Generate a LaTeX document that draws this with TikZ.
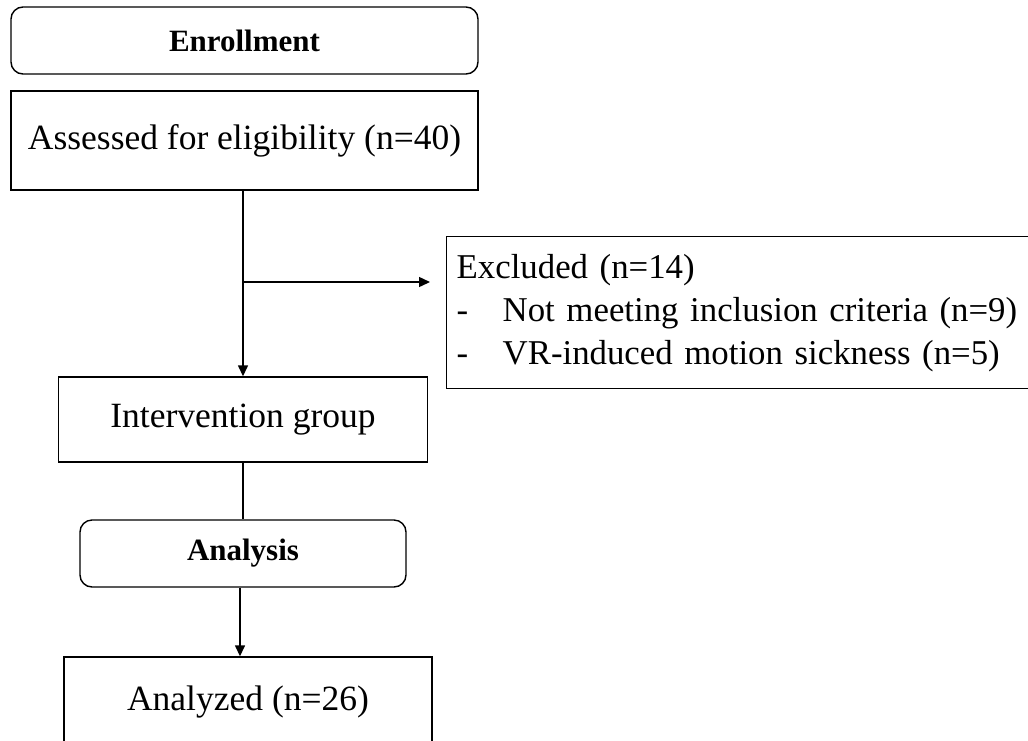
\documentclass[tikz,border=0pt]{standalone}
\usepackage{fontspec}
\setmainfont{Liberation Serif}
\usetikzlibrary{arrows.meta}
\tikzset{
  box/.style={draw, line width=1.4pt, inner sep=0pt, align=center, font=\fontsize{35.5}{43}\selectfont},
  roundbox/.style={box, rounded corners=12pt, font=\fontsize{31}{37}\selectfont\bfseries},
  conn/.style={line width=1.4pt},
  arr/.style={conn, -{Triangle[length=11pt,width=10pt]}}
}
\begin{document}
\begin{tikzpicture}[x=1pt,y=-1pt]
\clip (0,0) rectangle (1028,740);
\fill[white] (0,0) rectangle (1028,740);
\node[roundbox, minimum width=467pt, minimum height=67pt] (enrol) at (244.5,40.5) {Enrollment};
\node[box, minimum width=467pt, minimum height=99pt] (assess) at (244.5,140.5) {Assessed for eligibility (n=40)};
\node[box, anchor=north west, minimum height=152pt, inner xsep=10pt, text width=580pt, align=left, font=\fontsize{34.8}{43}\selectfont] (excl) at (446,236)
  {\begin{tabular}{@{}l@{}}Excluded (n=14)\\\makebox[46pt][l]{-}Not meeting inclusion criteria (n=9)\\\makebox[46pt][l]{-}VR-induced motion sickness (n=5)\end{tabular}};
\node[box, minimum width=369pt, minimum height=85pt] (interv) at (243,419.5) {Intervention group};
\node[roundbox, minimum width=326pt, minimum height=67pt] (anal) at (243,553.5) {Analysis};
\node[box, minimum width=368pt, minimum height=90pt] (analyzed) at (248,702) {Analyzed (n=26)};
\coordinate (branch) at (243,282);
\draw[arr] (interv.north |- assess.south) -- (interv.north);
\draw[arr, shorten >=16pt] (branch) -- (branch -| excl.west);
\draw[conn] (interv.south) -- (anal.north);
\draw[arr] (anal.south -| 240,0) -- (analyzed.north -| 240,0);
\end{tikzpicture}
\end{document}
